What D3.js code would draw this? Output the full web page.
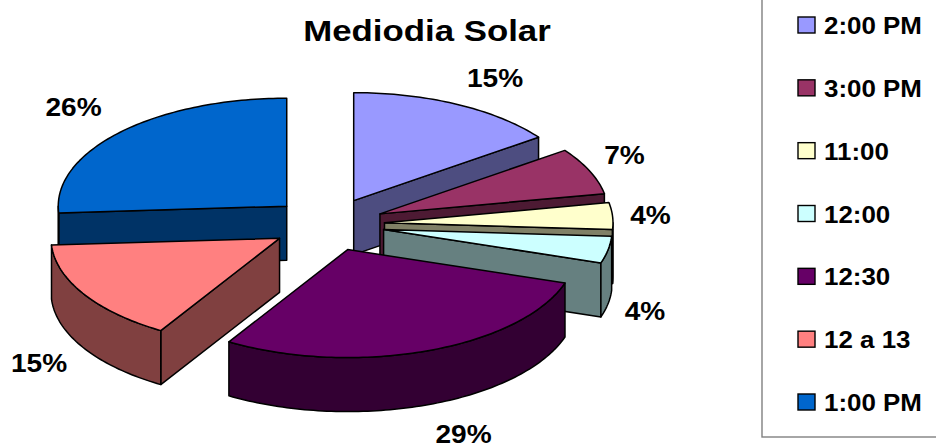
<!DOCTYPE html>
<html>
<head>
<meta charset="utf-8">
<script src="https://cdn.jsdelivr.net/npm/d3@7/dist/d3.min.js"></script>
<style>
html,body{margin:0;padding:0;background:#fff;overflow:hidden}
svg{display:block}
text{font-family:"Liberation Sans",Arial,sans-serif;font-weight:bold;fill:#000}
</style>
</head>
<body>
<svg id="c" width="936" height="443"></svg>
<script>
const categories = ["2:00 PM","3:00 PM","11:00","12:00","12:30","12 a 13","1:00 PM"];
const values = [15,7,4,4,28.7,15.3,26];
const colors = ["#9999FF","#993366","#FFFFCC","#CCFFFF","#660066","#FF8080","#0066CC"];
const labels = ["15%","7%","4%","4%","29%","15%","26%"];
const labelPos = [[495,87],[624.5,164],[650.5,224],[645,320],[463.5,442.5],[39,372],[73.5,116]];
const drawOrder = [6,0,1,2,3,5,4];

const cx=328, cy=224.5, rx=228.5, ry=108, depth=54, explode=56.6;
const k=ry/rx;
const svg=d3.select("#c");
const slices=d3.pie().sort(null).value(d=>d).startAngle(0).endAngle(2*Math.PI)(values);
const line=d3.line();

function darker(c){const r=d3.rgb(c);return d3.rgb(r.r/2,r.g/2,r.b/2).formatHex();}
function apex(s){const m=(s.startAngle+s.endAngle)/2;return [cx+explode*Math.sin(m),cy-explode*k*Math.cos(m)];}
function pt(a,an,r=1,dz=0){return [a[0]+rx*r*Math.sin(an),a[1]-ry*r*Math.cos(an)+dz];}
function arcPts(a,a0,a1,dz=0){const n=Math.max(2,Math.ceil((a1-a0)/0.02));return d3.range(n+1).map(i=>pt(a,a0+(a1-a0)*i/n,1,dz));}

const g=svg.append("g").attr("stroke","#000").attr("stroke-width",1.5).attr("stroke-linejoin","round");
drawOrder.forEach(i=>{
  const s=slices[i],a=apex(s),col=colors[i],side=darker(col),A=s.startAngle,B=s.endAngle;
  const wall=(an)=>{const p=pt(a,an);g.append("path").attr("fill",side).attr("d",line([a,p,[p[0],p[1]+depth],[a[0],a[1]+depth]])+"Z");};
  if(Math.sin(A)<-1e-6) wall(A);
  if(Math.sin(B)>1e-6) wall(B);
  const f0=Math.max(A,Math.PI/2),f1=Math.min(B,3*Math.PI/2);
  if(f1>f0){
    g.append("path").attr("fill",side).attr("d",line([...arcPts(a,f0,f1),...arcPts(a,f0,f1,depth).reverse()])+"Z");
  }
  g.append("path").attr("fill",col).attr("d",line([a,...arcPts(a,A,B)])+"Z");
});

function stretched(sel,x,y,sx,anchor,size,txt){
  sel.append("text").attr("transform",`translate(${x},${y}) scale(${sx},1)`).attr("text-anchor",anchor).attr("font-size",size).text(txt);
}
stretched(svg,427,41,1.2,"middle",29,"Mediodia Solar");
labels.forEach((t,i)=>stretched(svg,labelPos[i][0],labelPos[i][1],1.08,"middle",26,t));

svg.append("rect").attr("x",762).attr("y",-5).attr("width",300).attr("height",442).attr("fill","none").attr("stroke","#808080").attr("stroke-width",1.4);
const ly=d3.scalePoint().domain(categories).range([25,402]);
categories.forEach((c,i)=>{
  svg.append("rect").attr("x",798).attr("y",ly(c)-8).attr("width",17).attr("height",16).attr("fill",colors[i]).attr("stroke","#000").attr("stroke-width",1.4);
  stretched(svg,824,ly(c)+9,1.08,"start",24,c);
});
</script>
</body>
</html>
